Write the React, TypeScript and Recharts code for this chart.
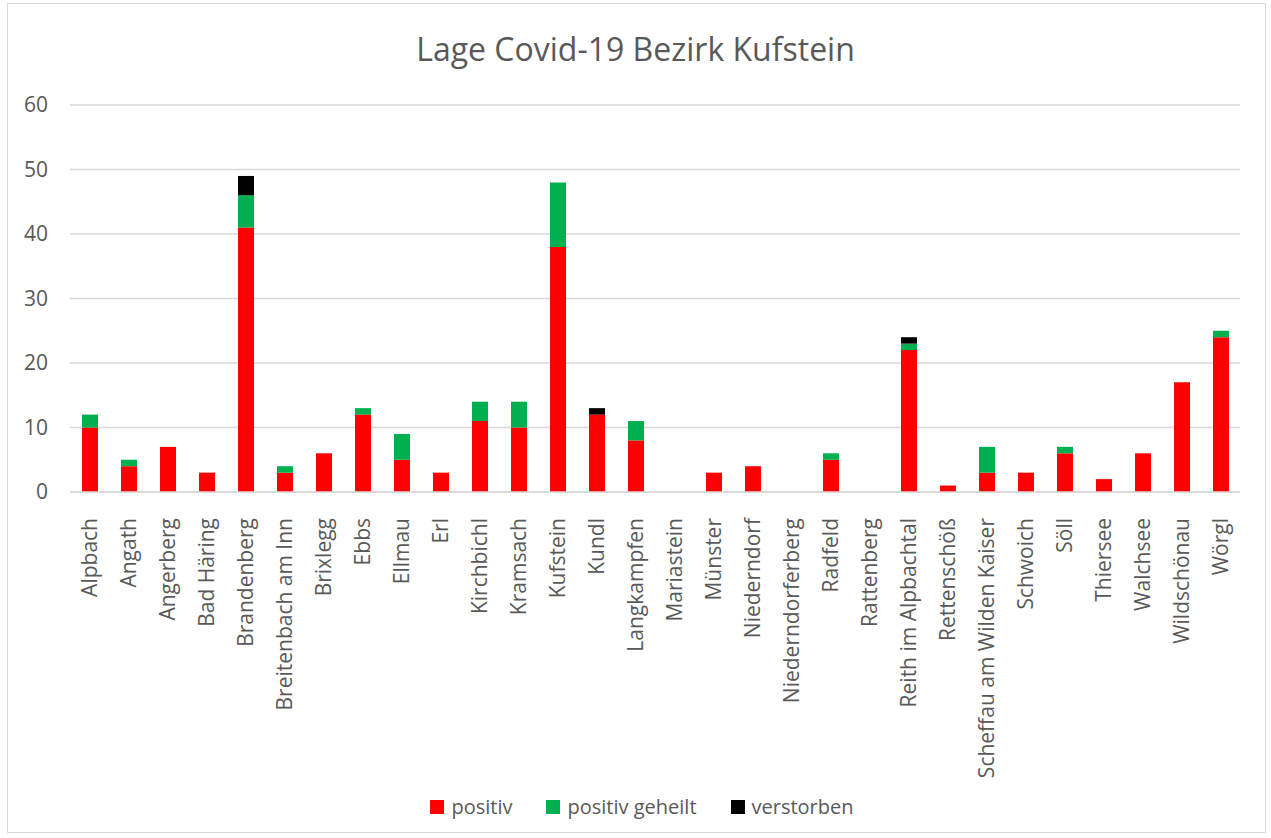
import React from 'react';
import { BarChart, Bar, XAxis, YAxis, CartesianGrid, Legend } from 'recharts';

const gemeinden = [
  'Alpbach', 'Angath', 'Angerberg', 'Bad Häring', 'Brandenberg', 'Breitenbach am Inn', 'Brixlegg', 'Ebbs',
  'Ellmau', 'Erl', 'Kirchbichl', 'Kramsach', 'Kufstein', 'Kundl', 'Langkampfen', 'Mariastein', 'Münster',
  'Niederndorf', 'Niederndorferberg', 'Radfeld', 'Rattenberg', 'Reith im Alpbachtal', 'Rettenschöß',
  'Scheffau am Wilden Kaiser', 'Schwoich', 'Söll', 'Thiersee', 'Walchsee', 'Wildschönau', 'Wörgl',
];
const positiv = [10, 4, 7, 3, 41, 3, 6, 12, 5, 3, 11, 10, 38, 12, 8, 0, 3, 4, 0, 5, 0, 22, 1, 3, 3, 6, 2, 6, 17, 24];
const geheilt = [2, 1, 0, 0, 5, 1, 0, 1, 4, 0, 3, 4, 10, 0, 3, 0, 0, 0, 0, 1, 0, 1, 0, 4, 0, 1, 0, 0, 0, 1];
const verstorben = [0, 0, 0, 0, 3, 0, 0, 0, 0, 0, 0, 0, 0, 1, 0, 0, 0, 0, 0, 0, 0, 1, 0, 0, 0, 0, 0, 0, 0, 0];
const yTicks = [0, 10, 20, 30, 40, 50, 60];

const series = [
  { key: 'positiv', name: 'positiv', color: '#ff0000' },
  { key: 'geheilt', name: 'positiv geheilt', color: '#00b050' },
  { key: 'verstorben', name: 'verstorben', color: '#000000' },
];

const data = gemeinden.map((name, i) => ({
  name,
  positiv: positiv[i],
  geheilt: geheilt[i],
  verstorben: verstorben[i],
}));

const FONT = '"Open Sans", Lato, sans-serif';
const GREY = '#595959';

function CategoryTick(props: any) {
  const { x, y, payload } = props;
  return (
    <text
      x={0}
      y={0}
      transform={`translate(${x + 7}, ${y + 18}) rotate(-90)`}
      textAnchor="end"
      fontSize={21}
      fontFamily={FONT}
      fill={GREY}
    >
      {payload.value}
    </text>
  );
}

function LegendContent() {
  return (
    <div
      style={{
        display: 'flex', justifyContent: 'center', gap: 34, paddingLeft: 44,
        fontFamily: FONT, fontSize: 20, color: GREY,
      }}
    >
      {series.map((s) => (
        <div key={s.key} style={{ display: 'flex', alignItems: 'center', gap: 7 }}>
          <span style={{ width: 14, height: 14, background: s.color, display: 'inline-block' }} />
          <span>{s.name}</span>
        </div>
      ))}
    </div>
  );
}

export default function App() {
  return (
    <div style={{ position: 'absolute', left: 0, top: 0, width: 1271, height: 838, background: '#fff' }}>
      <div
        style={{
          position: 'absolute', left: 7, top: 3, width: 1259, height: 830,
          border: '1px solid #d9d9d9', boxSizing: 'border-box',
        }}
      />
      <div
        style={{
          position: 'absolute', top: 27, left: 0, width: 1271, textAlign: 'center',
          fontFamily: FONT, fontSize: 32, color: GREY,
        }}
      >
        Lage Covid-19 Bezirk Kufstein
      </div>
      <div style={{ position: 'absolute', left: 0, top: 0 }}>
        <BarChart
          width={1271}
          height={838}
          data={data}
          margin={{ top: 105, right: 31, left: 0, bottom: 18 }}
          barSize={16}
        >
          <CartesianGrid vertical={false} stroke="#d9d9d9" strokeWidth={1.3} />
          <XAxis
            dataKey="name"
            interval={0}
            tick={<CategoryTick />}
            tickLine={false}
            axisLine={{ stroke: '#d9d9d9', strokeWidth: 1.5 }}
            height={301}
          />
          <YAxis
            width={70}
            domain={[0, 60]}
            ticks={yTicks}
            tickLine={false}
            axisLine={false}
            tickMargin={16}
            tick={{ fontSize: 21, fontFamily: FONT, fill: GREY }}
          />
          <Legend verticalAlign="bottom" content={<LegendContent />} />
          {series.map((s) => (
            <Bar key={s.key} dataKey={s.key} name={s.name} stackId="a" fill={s.color} isAnimationActive={false} />
          ))}
        </BarChart>
      </div>
    </div>
  );
}
